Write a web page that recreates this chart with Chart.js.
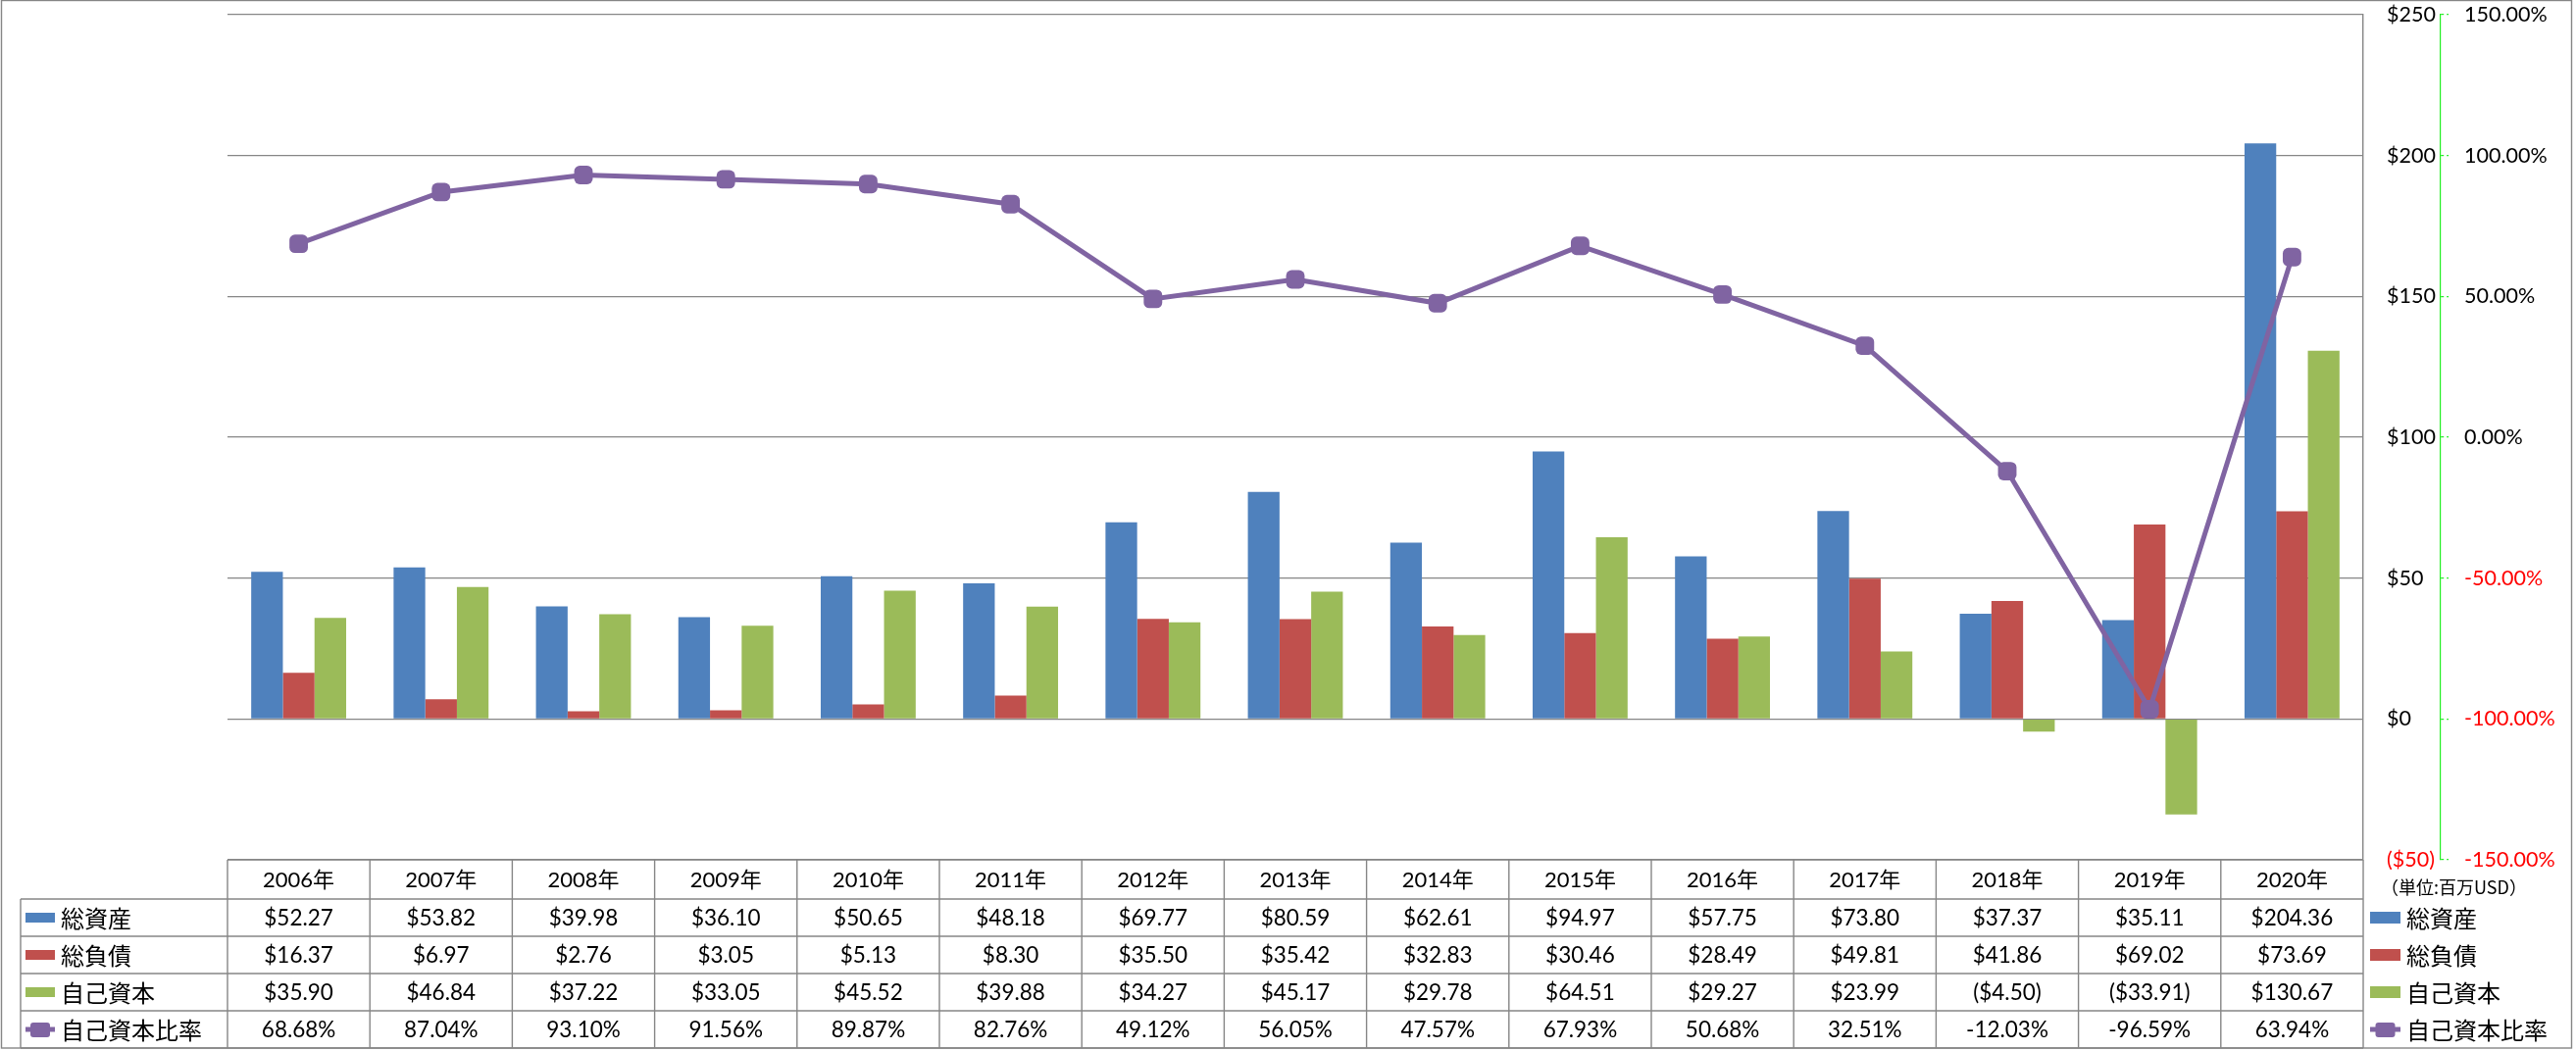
<!DOCTYPE html>
<html><head><meta charset="utf-8">
<script src="https://cdn.jsdelivr.net/npm/chart.js@4.4.1/dist/chart.umd.min.js"></script>
<style>html,body{margin:0;padding:0;background:#fff;overflow:hidden}canvas{display:block}</style>
</head><body>
<canvas id="c" width="2627" height="1071"></canvas>
<script>
// ---- data ----
const years = ['2006年','2007年','2008年','2009年','2010年','2011年','2012年','2013年','2014年','2015年','2016年','2017年','2018年','2019年','2020年'];
const totalAssets = [52.27, 53.82, 39.98, 36.10, 50.65, 48.18, 69.77, 80.59, 62.61, 94.97, 57.75, 73.80, 37.37, 35.11, 204.36];
const totalLiabilities = [16.37, 6.97, 2.76, 3.05, 5.13, 8.30, 35.50, 35.42, 32.83, 30.46, 28.49, 49.81, 41.86, 69.02, 73.69];
const equity = [35.90, 46.84, 37.22, 33.05, 45.52, 39.88, 34.27, 45.17, 29.78, 64.51, 29.27, 23.99, -4.50, -33.91, 130.67];
const equityRatio = [68.68, 87.04, 93.10, 91.56, 89.87, 82.76, 49.12, 56.05, 47.57, 67.93, 50.68, 32.51, -12.03, -96.59, 63.94];
const seriesNames = ['総資産','総負債','自己資本','自己資本比率'];
const usdTicks = [-50, 0, 50, 100, 150, 200, 250];
const pctTicks = [-150, -100, -50, 0, 50, 100, 150];
const unitNote = '（単位:百万USD）';

// ---- styles ----
const FONT = 'Lato, "Noto Sans CJK JP", sans-serif';
const JFONT = '"Noto Sans CJK JP", sans-serif';
const GRAY = '#868686';
const C_BLUE = '#4F81BD', C_RED = '#C0504D', C_GREEN = '#9BBB59', C_PURPLE = '#8064A2';
const AXIS_GREEN = '#22EE22';

const fmtUsd = v => v < 0 ? '($' + Math.abs(v).toFixed(2) + ')' : '$' + v.toFixed(2);
const fmtPct = v => v.toFixed(2) + '%';
const fmtUsdTick = v => v < 0 ? '($' + Math.abs(v) + ')' : '$' + v;

function line(ctx, x1, y1, x2, y2) { ctx.beginPath(); ctx.moveTo(x1, y1); ctx.lineTo(x2, y2); ctx.stroke(); }
function roundRect(ctx, x, y, w, h, r) {
  ctx.beginPath();
  ctx.moveTo(x + r, y); ctx.lineTo(x + w - r, y); ctx.quadraticCurveTo(x + w, y, x + w, y + r);
  ctx.lineTo(x + w, y + h - r); ctx.quadraticCurveTo(x + w, y + h, x + w - r, y + h);
  ctx.lineTo(x + r, y + h); ctx.quadraticCurveTo(x, y + h, x, y + h - r);
  ctx.lineTo(x, y + r); ctx.quadraticCurveTo(x, y, x + r, y); ctx.closePath(); ctx.fill();
}
function drawKey(ctx, kind, color, x, yc, w, h) {
  ctx.fillStyle = color;
  if (kind === 'bar') { ctx.fillRect(x, yc - h / 2, w, h); }
  else {
    ctx.strokeStyle = color; ctx.lineWidth = 5;
    line(ctx, x, yc, x + w, yc);
    roundRect(ctx, x + w / 2 - 10, yc - 7, 20, 15, 3);
  }
}

const tablePlugin = {
  id: 'dataTable',
  afterDraw(chart) {
    const ctx = chart.ctx, xs = chart.scales.x, ca = chart.chartArea;
    const n = years.length;
    const half = (xs.getPixelForValue(1) - xs.getPixelForValue(0)) / 2;
    const headTop = 877, headBot = 917, rowH = 38, labelLeft = 21;
    const rows = [
      { name: seriesNames[0], vals: totalAssets, fmt: fmtUsd, kind: 'bar', color: C_BLUE },
      { name: seriesNames[1], vals: totalLiabilities, fmt: fmtUsd, kind: 'bar', color: C_RED },
      { name: seriesNames[2], vals: equity, fmt: fmtUsd, kind: 'bar', color: C_GREEN },
      { name: seriesNames[3], vals: equityRatio, fmt: fmtPct, kind: 'line', color: C_PURPLE }
    ];
    const bottom = headBot + rows.length * rowH;
    ctx.save();
    ctx.strokeStyle = GRAY; ctx.lineWidth = 1.4;
    ctx.strokeRect(1.5, 0.5, 2621, 1068.5);
    line(ctx, ca.left, headTop, ca.right, headTop);
    for (let r = 0; r <= rows.length; r++) line(ctx, labelLeft, headBot + r * rowH, ca.right, headBot + r * rowH);
    for (let i = 0; i < n; i++) line(ctx, xs.getPixelForValue(i) - half, headTop, xs.getPixelForValue(i) - half, bottom);
    line(ctx, ca.right, headTop, ca.right, bottom);
    line(ctx, labelLeft, headBot, labelLeft, bottom);
    ctx.fillStyle = '#000'; ctx.textAlign = 'center'; ctx.textBaseline = 'middle';
    ctx.font = '22px ' + FONT;
    for (let i = 0; i < n; i++) ctx.fillText(years[i], xs.getPixelForValue(i), (headTop + headBot) / 2 + 1);
    rows.forEach((row, r) => {
      const yc = headBot + r * rowH + rowH / 2 + 1;
      ctx.fillStyle = '#000'; ctx.textAlign = 'center'; ctx.font = '22.5px ' + FONT;
      for (let i = 0; i < n; i++) ctx.fillText(row.fmt(row.vals[i]), xs.getPixelForValue(i), yc);
      drawKey(ctx, row.kind, row.color, 26, yc - 1, 30, 10);
      ctx.fillStyle = '#000'; ctx.textAlign = 'left'; ctx.font = '24px ' + JFONT;
      ctx.fillText(row.name, 62, yc);
      drawKey(ctx, row.kind, row.color, 2417, yc - 1, 31, 12);
      ctx.fillStyle = '#000'; ctx.font = '24px ' + JFONT;
      ctx.fillText(row.name, 2454, yc);
    });
    ctx.font = '18px ' + JFONT; ctx.fillStyle = '#000'; ctx.textAlign = 'left';
    ctx.fillText(unitNote, 2428, 905);
    ctx.restore();
  }
};

const noPad = s => { s.paddingTop = 0; s.paddingBottom = 0; };

new Chart(document.getElementById('c'), {
  data: {
    labels: years,
    datasets: [
      { type: 'line', label: seriesNames[3], data: equityRatio, yAxisID: 'y1', order: 0,
        borderColor: C_PURPLE, borderWidth: 5, backgroundColor: C_PURPLE,
        pointStyle: 'rectRounded', pointRadius: 11, pointBackgroundColor: C_PURPLE, pointBorderWidth: 0, tension: 0 },
      { type: 'bar', label: seriesNames[0], data: totalAssets, yAxisID: 'y', order: 1, backgroundColor: C_BLUE, categoryPercentage: 0.667, barPercentage: 1.0 },
      { type: 'bar', label: seriesNames[1], data: totalLiabilities, yAxisID: 'y', order: 1, backgroundColor: C_RED, categoryPercentage: 0.667, barPercentage: 1.0 },
      { type: 'bar', label: seriesNames[2], data: equity, yAxisID: 'y', order: 1, backgroundColor: C_GREEN, categoryPercentage: 0.667, barPercentage: 1.0 }
    ]
  },
  options: {
    responsive: false, animation: false, events: [],
    layout: { autoPadding: false, padding: { left: 232, top: 15, bottom: 194, right: 8 } },
    plugins: { legend: { display: false }, tooltip: { enabled: false } },
    scales: {
      x: { display: false, grid: { display: false } },
      y: {
        position: 'right', min: -50, max: 250,
        afterBuildTicks: s => { s.ticks = usdTicks.map(v => ({ value: v })); },
        afterFit: s => { s.width = 79; noPad(s); },
        grid: { color: GRAY, lineWidth: 1.3, drawTicks: false },
        border: { display: true, color: GRAY, width: 1.4 },
        ticks: { padding: 24, font: { family: FONT, size: 21.5 }, color: c => c.tick.value < 0 ? '#FF0000' : '#000',
          callback: v => fmtUsdTick(v) }
      },
      y1: {
        position: 'right', min: -150, max: 150,
        afterBuildTicks: s => { s.ticks = pctTicks.map(v => ({ value: v })); },
        afterFit: s => { s.width = 130; noPad(s); },
        grid: { drawOnChartArea: false, drawTicks: true, tickLength: 8, color: AXIS_GREEN, tickBorderDash: [3, 3], lineWidth: 1.2 },
        border: { display: true, color: AXIS_GREEN, dash: [5, 3], width: 1.2 },
        ticks: { padding: 16, font: { family: FONT, size: 21.5 }, color: c => c.tick.value < 0 ? '#FF0000' : '#000',
          callback: v => fmtPct(v) }
      }
    }
  },
  plugins: [tablePlugin]
});
</script>
</body></html>
